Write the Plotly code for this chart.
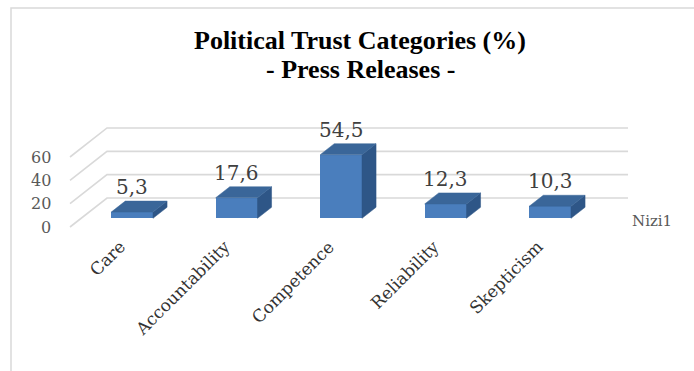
import plotly.graph_objects as go

# Data
categories = ["Care", "Accountability", "Competence", "Reliability", "Skepticism"]
values = [5.3, 17.6, 54.5, 12.3, 10.3]
value_labels = ["5,3", "17,6", "54,5", "12,3", "10,3"]
tick_values = [0, 20, 40, 60]
tick_labels = ["0", "20", "40", "60"]
series_name = "Nizi1"

W, H = 694, 371

# Oblique projection: a point (category x, value v, depth t in 0..1) is
# shifted by t * (DX, DY) in axis units.
DX, DY = 0.354, 24.86
T_FRONT, T_BACK = 0.30, 0.68      # bar depth span inside the floor
HALF = 0.20                        # half bar width (category units)
WALL_L, WALL_R = -0.488, 4.498     # left wall / right end of back wall

def proj(x, v, t):
    return x + t * DX, v + t * DY

FRONT = "#4a7ebd"
TOP = "#3a6699"
SIDE = "#2e5687"
GRID = "#d9d9d9"

fig = go.Figure()
shapes = []

# Walls: gridlines on the side wall and back wall (kept beneath the bars)
for v in tick_values:
    x0, y0 = proj(WALL_L, v, 0)
    x1, y1 = proj(WALL_L, v, 1)
    x2, y2 = proj(WALL_R, v, 1)
    shapes.append(dict(type="path", xref="x", yref="y", layer="below",
                       path=f"M {x0},{y0} L {x1},{y1} L {x2},{y2}",
                       line=dict(color=GRID, width=1.6)))

# Bars: front face as a bar trace, side and top faces as polygons
xs = list(range(len(categories)))
front_x = [proj(i, 0, T_FRONT)[0] for i in xs]
base_y = proj(0, 0, T_FRONT)[1]
fig.add_trace(go.Bar(x=front_x, y=values, base=base_y, width=2 * HALF,
                     marker=dict(color=FRONT, line=dict(width=0)),
                     hoverinfo="skip", showlegend=False))

for i, v in zip(xs, values):
    side = [proj(i + HALF, 0, T_FRONT), proj(i + HALF, 0, T_BACK),
            proj(i + HALF, v, T_BACK), proj(i + HALF, v, T_FRONT)]
    top = [proj(i - HALF, v, T_FRONT), proj(i + HALF, v, T_FRONT),
           proj(i + HALF, v, T_BACK), proj(i - HALF, v, T_BACK)]
    for poly, col in ((side, SIDE), (top, TOP)):
        px = [p[0] for p in poly] + [poly[0][0]]
        py = [p[1] for p in poly] + [poly[0][1]]
        fig.add_trace(go.Scatter(x=px, y=py, mode="lines", fill="toself",
                                 fillcolor=col, line=dict(color=col, width=0.5),
                                 hoverinfo="skip", showlegend=False))

annotations = []

# Value labels above each bar
for i, v, lab in zip(xs, values, value_labels):
    lx, _ = proj(i, v, T_FRONT)
    _, ly = proj(i, v, T_BACK)
    annotations.append(dict(x=lx, y=ly, text=lab, showarrow=False,
                            xanchor="center", yanchor="bottom", yshift=0,
                            font=dict(family="DejaVu Serif", size=20, color="#404040")))

# Value axis tick labels on the front-left edge
for v, lab in zip(tick_values, tick_labels):
    tx, ty = proj(WALL_L, v, 0)
    annotations.append(dict(x=tx, y=ty, text=lab, showarrow=False,
                            xanchor="right", yanchor="middle", xshift=-17,
                            font=dict(family="DejaVu Serif", size=16, color="#595959")))

# Category labels, rotated, ending just below each bar
for i, cat in zip(xs, categories):
    cx, _ = proj(i, 0, T_FRONT)
    annotations.append(dict(x=cx, y=-6.0, text=cat, showarrow=False,
                            xanchor="right", yanchor="top", textangle=-45,
                            xshift=0,
                            font=dict(family="DejaVu Serif", size=17, color="#333333")))

# Depth axis label
nx, ny = proj(WALL_R, 0, T_FRONT)
annotations.append(dict(x=nx + 0.27, y=ny - 2, text=series_name, showarrow=False,
                        xanchor="left", yanchor="middle",
                        font=dict(family="DejaVu Serif", size=15, color="#595959")))

# Title
annotations.append(dict(xref="paper", yref="paper", x=360 / W, y=1 - 40 / H,
                        text="<b>Political Trust Categories (%)</b>", showarrow=False,
                        xanchor="center", yanchor="middle",
                        font=dict(family="Liberation Serif", size=26, color="#000000")))
annotations.append(dict(xref="paper", yref="paper", x=360 / W, y=1 - 70 / H,
                        text="<b>- Press Releases -</b>", showarrow=False,
                        xanchor="center", yanchor="middle",
                        font=dict(family="Liberation Serif", size=26, color="#000000")))

# Chart frame
shapes.append(dict(type="rect", xref="paper", yref="paper",
                   x0=11 / W, x1=1.05, y0=-0.05, y1=1 - 8 / H,
                   line=dict(color="#d9d9d9", width=1.5), fillcolor="rgba(0,0,0,0)",
                   layer="below"))

# Axis ranges chosen so one category step = 104.5 px and one value unit = 1.1667 px
X_PX, Y_PX = 104.5, 1.1667
x0_px, y0_px = 121, 227
x_range = [-x0_px / X_PX, (W - x0_px) / X_PX]
y_range = [-(H - y0_px) / Y_PX, y0_px / Y_PX]

fig.update_layout(
    width=W, height=H, autosize=False,
    margin=dict(l=0, r=0, t=0, b=0),
    paper_bgcolor="white", plot_bgcolor="white",
    xaxis=dict(range=x_range, visible=False, fixedrange=True),
    yaxis=dict(range=y_range, visible=False, fixedrange=True),
    annotations=annotations,
    shapes=shapes,
    bargap=0,
)

fig.write_html("out.html", config={"displayModeBar": False})
